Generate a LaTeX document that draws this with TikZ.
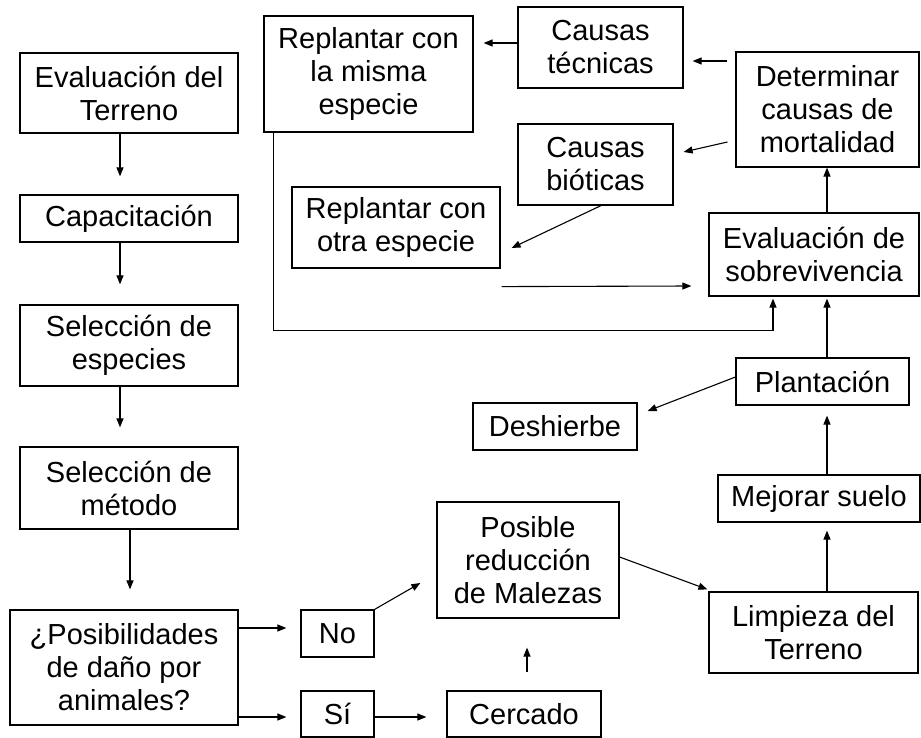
\documentclass[tikz,border=0pt]{standalone}
\usepackage{fontspec}
\setmainfont{Liberation Sans}
\usetikzlibrary{arrows.meta,calc}
\tikzset{
  box/.style={draw=black, line width=1.2pt, inner sep=0pt, align=center,
    font=\fontsize{29}{33}\selectfont},
  arr/.style={draw=black, line width=1.1pt, -{Triangle[length=9pt,width=7pt]}},
  ln/.style={draw=black, line width=1.1pt}
}
\begin{document}
\begin{tikzpicture}[x=1pt,y=-1pt]
\useasboundingbox (0,0) rectangle (921,738);
% left column
\node[box, minimum width=218pt, minimum height=80pt] (eval) at (129,93) {Evaluación del\\Terreno};
\node[box, minimum width=218pt, minimum height=47pt] (cap) at (129,218.5) {Capacitación};
\node[box, minimum width=218pt, minimum height=81pt] (selesp) at (129,345.5) {Selección de\\especies};
\node[box, minimum width=218pt, minimum height=82pt] (selmet) at (129,488) {Selección de\\método};
\node[box, minimum width=228pt, minimum height=115pt] (posib) at (124,667.5) {¿Posibilidades\\de daño por\\animales?};
\node[box, minimum width=73pt, minimum height=47pt] (no) at (337.5,633.5) {No};
\node[box, minimum width=73pt, minimum height=46pt] (si) at (337.5,714) {Sí};
\node[box, minimum width=154pt, minimum height=46pt] (cerc) at (524,714) {Cercado};
\node[box, minimum width=182pt, minimum height=116pt] (posred) at (528,560) {Posible\\reducción\\de Malezas};
\node[box, minimum width=209pt, minimum height=81pt] (limp) at (813.5,632.5) {Limpieza del\\Terreno};
\node[box, minimum width=202pt, minimum height=47pt] (mejor) at (819,498.5) {Mejorar suelo};
\node[box, minimum width=173pt, minimum height=47pt] (plant) at (822.5,381.5) {Plantación};
\node[box, minimum width=164pt, minimum height=47pt] (desh) at (555,426.5) {Deshierbe};
\node[box, minimum width=210pt, minimum height=83pt] (evsob) at (814,254.5) {Evaluación de\\sobrevivencia};
\node[box, minimum width=183pt, minimum height=115pt] (det) at (827.5,109.5) {Determinar\\causas de\\mortalidad};
\node[box, minimum width=165pt, minimum height=81pt] (ctec) at (600.5,47.5) {Causas\\técnicas};
\node[box, minimum width=155pt, minimum height=81pt] (cbio) at (595.5,164.5) {Causas\\bióticas};
\node[box, minimum width=209pt, minimum height=116pt] (remis) at (368.5,74) {Replantar con\\la misma\\especie};
\node[box, minimum width=208pt, minimum height=81pt] (reotra) at (396,227.5) {Replantar con\\otra especie};
% left column connectors
\draw[arr, shorten >=18pt] ([xshift=-9pt]eval.south) -- ([xshift=-9pt]cap.north);
\draw[arr, shorten >=20pt] ([xshift=-9pt]cap.south) -- ([xshift=-9pt]selesp.north);
\draw[arr, shorten >=19pt] ([xshift=-9pt]selesp.south) -- ([xshift=-9pt]selmet.north);
\draw[arr, shorten >=20pt] ([xshift=1pt]selmet.south) -- ([xshift=6pt]posib.north);
% decision
\draw[arr, shorten >=14pt] ([yshift=39.5pt]posib.east) -- ([yshift=39.5pt]posib.east -| no.west);
\draw[arr, shorten >=14pt] ([yshift=-49.5pt]posib.east) -- ([yshift=-49.5pt]posib.east -| si.west);
\draw[arr, shorten >=20pt] ([yshift=-3pt]si.east) -- ([yshift=-3pt]si.east -| cerc.west);
\draw[arr] (no.north east) -- ($(posred.west)+(-16,23)$);
\draw[arr] ([xshift=3pt,yshift=18pt]cerc.north) -- ([xshift=-1pt,yshift=-29pt]posred.south);
\draw[arr] ([yshift=3pt]posred.east) -- ($(limp.north west)+(-1,-2)$);
% right column
\draw[arr, shorten >=8pt] ([xshift=13.5pt]limp.north) -- ([xshift=8pt]mejor.south);
\draw[arr, shorten >=10pt] ([xshift=8pt]mejor.north) -- ([xshift=4.5pt]plant.south);
\draw[arr] ([yshift=4.5pt]plant.west) -- ([xshift=10pt,yshift=15.5pt]desh.east);
\draw[arr, shorten >=2pt] ([xshift=4.5pt]plant.north) -- ([xshift=13pt]evsob.south);
\draw[arr, shorten >=2pt] ([xshift=10pt]remis.south west) -- ++(0,198) -| ([xshift=-41pt]evsob.south);
\draw[arr] ([xshift=13pt]evsob.north) -- ([xshift=-0.5pt]det.south);
% causes
\draw[arr] ([xshift=-8pt,yshift=48.5pt]det.west) -- ([xshift=9pt,yshift=-13.5pt]ctec.east);
\draw[arr] ([xshift=-8pt,yshift=-32.5pt]det.west) -- ([xshift=10pt,yshift=12.5pt]cbio.east);
\draw[arr] ([yshift=4.5pt]ctec.west) -- ([xshift=10pt,yshift=31pt]remis.east);
\draw[arr] ([xshift=5.5pt]cbio.south) -- ([xshift=11pt,yshift=-20.5pt]reotra.east);
\draw[arr] ($(reotra.south east)+(1,18)$) -- ([xshift=-17pt,yshift=-31.5pt]evsob.west);
\end{tikzpicture}
\end{document}
